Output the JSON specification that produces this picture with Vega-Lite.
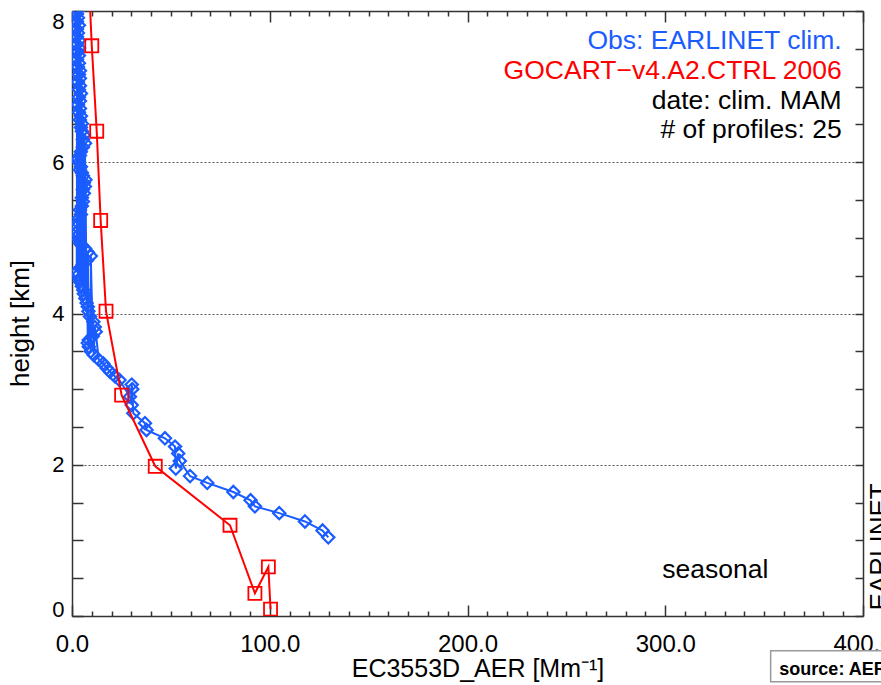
{
  "$schema": "https://vega.github.io/schema/vega-lite/v6.json",
  "width": 791,
  "height": 605,
  "autosize": {"type": "none"},
  "padding": {"left": 72, "top": 11, "right": 18, "bottom": 69},
  "background": "white",
  "config": {"view": {"stroke": null}, "font": "Liberation Sans", "text": {"font": "Liberation Sans"}},
  "datasets": {
    "obs": [
      {"h": 1.04, "v": 129.6}, {"h": 1.13, "v": 126.7}, {"h": 1.25, "v": 117.8}, {"h": 1.36, "v": 104.8},
      {"h": 1.45, "v": 92.5}, {"h": 1.53, "v": 90.3}, {"h": 1.64, "v": 81.6}, {"h": 1.76, "v": 68.4},
      {"h": 1.85, "v": 59.7}, {"h": 1.95, "v": 52.5}, {"h": 2.05, "v": 54.5}, {"h": 2.15, "v": 53.7},
      {"h": 2.24, "v": 52.1}, {"h": 2.35, "v": 47.0}, {"h": 2.46, "v": 37.7}, {"h": 2.55, "v": 36.9},
      {"h": 2.68, "v": 31.0}, {"h": 2.79, "v": 30.2}, {"h": 2.90, "v": 29.3}, {"h": 3.00, "v": 30.5},
      {"h": 3.06, "v": 30.2}, {"h": 3.12, "v": 24.0}, {"h": 3.17, "v": 21.7}, {"h": 3.23, "v": 19.2},
      {"h": 3.28, "v": 17.5}, {"h": 3.34, "v": 15.8}, {"h": 3.39, "v": 13.5}, {"h": 3.45, "v": 11.0},
      {"h": 3.50, "v": 9.5}, {"h": 3.56, "v": 8.5}, {"h": 3.61, "v": 8.0}, {"h": 3.65, "v": 8.5},
      {"h": 3.70, "v": 10.5}, {"h": 3.76, "v": 12.0}, {"h": 3.82, "v": 11.5}, {"h": 3.89, "v": 10.8},
      {"h": 3.96, "v": 9.1}, {"h": 4.03, "v": 8.3}, {"h": 4.09, "v": 8.0}, {"h": 4.14, "v": 7.4},
      {"h": 4.20, "v": 6.8}, {"h": 4.26, "v": 6.0}, {"h": 4.31, "v": 5.7}, {"h": 4.36, "v": 5.0},
      {"h": 4.42, "v": 4.0}, {"h": 4.46, "v": 3.8}, {"h": 4.51, "v": 3.0}, {"h": 4.55, "v": 2.4},
      {"h": 4.60, "v": 4.0}, {"h": 4.65, "v": 5.5}, {"h": 4.70, "v": 7.5}, {"h": 4.76, "v": 9.5},
      {"h": 4.81, "v": 8.0}, {"h": 4.86, "v": 6.6}, {"h": 4.90, "v": 5.0}, {"h": 4.93, "v": 4.0},
      {"h": 4.98, "v": 3.5}, {"h": 5.03, "v": 3.0}, {"h": 5.08, "v": 2.5}, {"h": 5.15, "v": 2.4},
      {"h": 5.20, "v": 3.0}, {"h": 5.26, "v": 3.5}, {"h": 5.31, "v": 4.5}, {"h": 5.37, "v": 4.0},
      {"h": 5.42, "v": 5.0}, {"h": 5.48, "v": 5.5}, {"h": 5.53, "v": 5.0}, {"h": 5.59, "v": 6.0},
      {"h": 5.64, "v": 5.5}, {"h": 5.68, "v": 6.5}, {"h": 5.73, "v": 6.0}, {"h": 5.77, "v": 6.8},
      {"h": 5.82, "v": 5.5}, {"h": 5.86, "v": 5.0}, {"h": 5.90, "v": 4.0}, {"h": 5.94, "v": 4.5},
      {"h": 6.00, "v": 3.5}, {"h": 6.04, "v": 3.0}, {"h": 6.09, "v": 4.0}, {"h": 6.14, "v": 4.5},
      {"h": 6.20, "v": 5.5}, {"h": 6.25, "v": 6.6}, {"h": 6.30, "v": 5.5}, {"h": 6.36, "v": 6.0},
      {"h": 6.41, "v": 5.0}, {"h": 6.46, "v": 4.5}, {"h": 6.51, "v": 5.0}, {"h": 6.56, "v": 4.0},
      {"h": 6.61, "v": 4.5}, {"h": 6.66, "v": 3.5}, {"h": 6.71, "v": 4.0}, {"h": 6.76, "v": 3.0},
      {"h": 6.81, "v": 4.0}, {"h": 6.86, "v": 3.5}, {"h": 6.91, "v": 4.5}, {"h": 6.96, "v": 3.5},
      {"h": 7.01, "v": 4.0}, {"h": 7.06, "v": 3.0}, {"h": 7.11, "v": 4.0}, {"h": 7.16, "v": 3.5},
      {"h": 7.21, "v": 4.0}, {"h": 7.26, "v": 3.0}, {"h": 7.31, "v": 3.5}, {"h": 7.36, "v": 2.5},
      {"h": 7.41, "v": 3.5}, {"h": 7.46, "v": 3.0}, {"h": 7.51, "v": 3.5}, {"h": 7.56, "v": 2.5},
      {"h": 7.61, "v": 3.5}, {"h": 7.66, "v": 2.5}, {"h": 7.71, "v": 3.0}, {"h": 7.76, "v": 2.5},
      {"h": 7.81, "v": 3.5}, {"h": 7.86, "v": 2.5}, {"h": 7.91, "v": 3.0}, {"h": 7.96, "v": 2.5},
      {"h": 8.01, "v": 3.0}, {"h": 8.06, "v": 3.5}
    ],
    "model": [
      {"h": 0.09, "v": 100.4}, {"h": 0.30, "v": 92.5}, {"h": 0.65, "v": 99.3}, {"h": 1.20, "v": 79.9},
      {"h": 1.98, "v": 42.1}, {"h": 2.92, "v": 25.1}, {"h": 4.03, "v": 17.2}, {"h": 5.23, "v": 14.5},
      {"h": 6.41, "v": 12.5}, {"h": 7.54, "v": 10.0}, {"h": 8.70, "v": 8.0}
    ]
  },
  "resolve": {"axis": {"x": "independent", "y": "independent"}},
  "layer": [
    {
      "data": {"name": "obs"},
      "mark": {"type": "line", "color": "#1a5cff", "strokeWidth": 2, "clip": true},
      "encoding": {
        "x": {
          "field": "v", "type": "quantitative",
          "scale": {"domain": [0, 400], "nice": false, "zero": false},
          "axis": {
            "orient": "bottom",
            "values": [0,10,20,30,40,50,60,70,80,90,100,110,120,130,140,150,160,170,180,190,200,210,220,230,240,250,260,270,280,290,300,310,320,330,340,350,360,370,380,390,400],
            "labelExpr": "datum.value % 100 === 0 ? format(datum.value, '.1f') : ''",
            "tickSize": {"condition": {"test": "datum.value % 100 === 0", "value": -11}, "value": -5},
            "tickColor": "#333", "tickWidth": 1.5,
            "domainColor": "#333", "domainWidth": 1.5,
            "labelPadding": 27, "labelFontSize": 24, "labelColor": "black", "labelFont": "Liberation Sans",
            "labelFlush": false, "labelOverlap": false, "grid": false,
            "title": "EC3553D_AER [Mm⁻¹]", "titleFontSize": 25, "titleFontWeight": "normal", "titleColor": "black",
            "titleFont": "Liberation Sans", "titleX": 405.5, "titleY": 60, "titleAlign": "center", "titleBaseline": "alphabetic"
          }
        },
        "y": {
          "field": "h", "type": "quantitative",
          "scale": {"domain": [0, 8], "nice": false, "zero": false},
          "axis": {
            "orient": "left",
            "values": [0,0.5,1,1.5,2,2.5,3,3.5,4,4.5,5,5.5,6,6.5,7,7.5,8],
            "labelExpr": "datum.value % 2 === 0 ? format(datum.value, 'd') : ''",
            "tickSize": -11, "tickColor": "#333", "tickWidth": 1.5,
            "domainColor": "#333", "domainWidth": 1.5,
            "labelPadding": 19, "labelFontSize": 22, "labelColor": "black", "labelFont": "Liberation Sans",
            "labelFlush": true, "labelOverlap": false,
            "labelOffset": {"condition": {"test": "datum.value === 0", "value": 5}, "value": 0},
            "grid": true, "gridColor": "#555", "gridDash": [2, 2], "gridWidth": 1,
            "gridOpacity": {"condition": {"test": "datum.value === 2 || datum.value === 4 || datum.value === 6", "value": 1}, "value": 0},
            "title": "height [km]", "titleFontSize": 26, "titleFontWeight": "normal", "titleColor": "black",
            "titleFont": "Liberation Sans", "titleAngle": 270, "titleX": -52, "titleY": 312, "titleAlign": "center", "titleBaseline": "middle"
          }
        }
      }
    },
    {
      "data": {"name": "obs"},
      "mark": {"type": "point", "shape": "diamond", "filled": false, "size": 150, "strokeWidth": 2.2, "color": "#1a5cff", "opacity": 1, "clip": true},
      "encoding": {
        "x": {
          "field": "v", "type": "quantitative",
          "scale": {"domain": [0, 400], "nice": false, "zero": false},
          "axis": {
            "orient": "top",
            "values": [0,10,20,30,40,50,60,70,80,90,100,110,120,130,140,150,160,170,180,190,200,210,220,230,240,250,260,270,280,290,300,310,320,330,340,350,360,370,380,390,400],
            "labels": false, "grid": false, "title": null,
            "tickSize": {"condition": {"test": "datum.value % 100 === 0", "value": -11}, "value": -5},
            "tickColor": "#333", "tickWidth": 1.5, "domainColor": "#333", "domainWidth": 1.5
          }
        },
        "y": {
          "field": "h", "type": "quantitative",
          "scale": {"domain": [0, 8], "nice": false, "zero": false},
          "axis": {
            "orient": "right",
            "values": [0,0.5,1,1.5,2,2.5,3,3.5,4,4.5,5,5.5,6,6.5,7,7.5,8],
            "labels": false, "grid": false,
            "tickSize": -8, "tickColor": "#333", "tickWidth": 1.5, "domainColor": "#333", "domainWidth": 1.5,
            "title": "EARLINET", "titleFontSize": 26, "titleFontWeight": "normal", "titleColor": "black",
            "titleFont": "Liberation Sans", "titleAngle": 270, "titleX": 3, "titleY": 599, "titleAlign": "left", "titleBaseline": "top"
          }
        }
      }
    },
    {
      "data": {"name": "model"},
      "mark": {"type": "line", "color": "#ff0000", "strokeWidth": 2, "clip": true},
      "encoding": {
        "x": {"field": "v", "type": "quantitative", "scale": {"domain": [0, 400], "nice": false, "zero": false}, "axis": null},
        "y": {"field": "h", "type": "quantitative", "scale": {"domain": [0, 8], "nice": false, "zero": false}, "axis": null}
      }
    },
    {
      "data": {"name": "model"},
      "mark": {"type": "point", "shape": "square", "filled": false, "size": 170, "strokeWidth": 1.8, "color": "#ff0000", "opacity": 1, "clip": true},
      "encoding": {
        "x": {"field": "v", "type": "quantitative", "scale": {"domain": [0, 400], "nice": false, "zero": false}, "axis": null},
        "y": {"field": "h", "type": "quantitative", "scale": {"domain": [0, 8], "nice": false, "zero": false}, "axis": null}
      }
    },
    {
      "data": {"values": [{"t": "Obs: EARLINET clim."}]},
      "mark": {"type": "text", "align": "right", "baseline": "alphabetic", "fontSize": 26.5, "color": "#1a5cff", "font": "Liberation Sans"},
      "encoding": {
        "x": {"datum": 389.2, "type": "quantitative", "axis": null},
        "y": {"datum": 7.494, "type": "quantitative", "axis": null},
        "text": {"field": "t"}
      }
    },
    {
      "data": {"values": [{"t": "GOCART−v4.A2.CTRL 2006"}]},
      "mark": {"type": "text", "align": "right", "baseline": "alphabetic", "fontSize": 26.5, "color": "#ff0000", "font": "Liberation Sans"},
      "encoding": {
        "x": {"datum": 389.2, "type": "quantitative", "axis": null},
        "y": {"datum": 7.101, "type": "quantitative", "axis": null},
        "text": {"field": "t"}
      }
    },
    {
      "data": {"values": [{"t": "date: clim. MAM"}]},
      "mark": {"type": "text", "align": "right", "baseline": "alphabetic", "fontSize": 26.5, "color": "black", "font": "Liberation Sans"},
      "encoding": {
        "x": {"datum": 389.2, "type": "quantitative", "axis": null},
        "y": {"datum": 6.704, "type": "quantitative", "axis": null},
        "text": {"field": "t"}
      }
    },
    {
      "data": {"values": [{"t": "# of profiles: 25"}]},
      "mark": {"type": "text", "align": "right", "baseline": "alphabetic", "fontSize": 26.5, "color": "black", "font": "Liberation Sans"},
      "encoding": {
        "x": {"datum": 389.2, "type": "quantitative", "axis": null},
        "y": {"datum": 6.317, "type": "quantitative", "axis": null},
        "text": {"field": "t"}
      }
    },
    {
      "data": {"values": [{"t": "seasonal"}]},
      "mark": {"type": "text", "align": "right", "baseline": "alphabetic", "fontSize": 26.5, "color": "black", "font": "Liberation Sans"},
      "encoding": {
        "x": {"datum": 352.1, "type": "quantitative", "axis": null},
        "y": {"datum": 0.4985, "type": "quantitative", "axis": null},
        "text": {"field": "t"}
      }
    },
    {
      "data": {"values": [{"t": "box"}]},
      "mark": {"type": "rect", "fill": "white", "stroke": "#999", "strokeWidth": 1.5},
      "encoding": {
        "x": {"datum": 353.3, "type": "quantitative", "axis": null},
        "x2": {"datum": 440},
        "y": {"datum": -0.459, "type": "quantitative", "axis": null},
        "y2": {"datum": -0.869}
      }
    },
    {
      "data": {"values": [{"t": "source: AEROCOM"}]},
      "mark": {"type": "text", "align": "left", "baseline": "alphabetic", "fontSize": 18, "fontWeight": "bold", "color": "black", "font": "Liberation Sans"},
      "encoding": {
        "x": {"datum": 357.7, "type": "quantitative", "axis": null},
        "y": {"datum": -0.78, "type": "quantitative", "axis": null},
        "text": {"field": "t"}
      }
    }
  ]
}
